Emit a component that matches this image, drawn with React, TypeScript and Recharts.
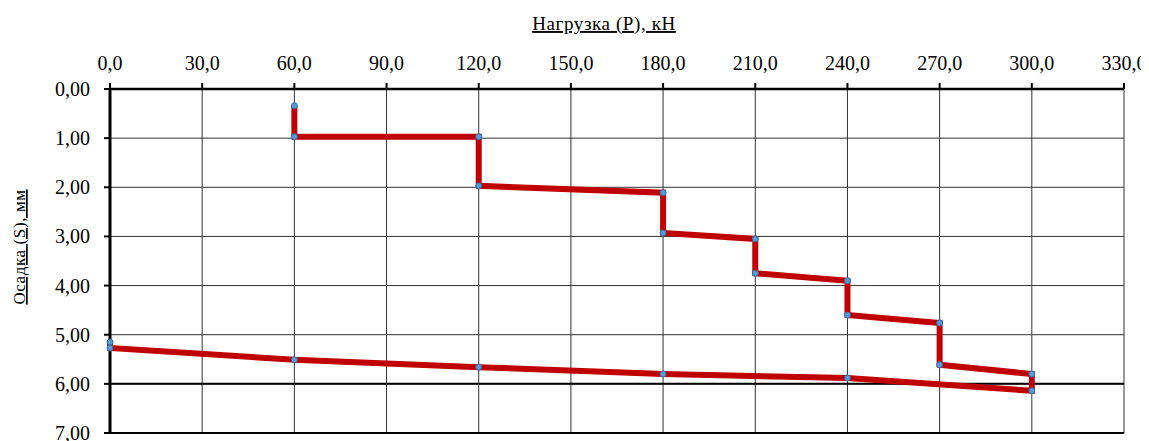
import React from 'react';
import { LineChart, Line, XAxis, YAxis, CartesianGrid, ReferenceLine, Label } from 'recharts';

// load (kN) and settlement (mm), in test order: loading steps then unloading
const loads = [60, 60, 120, 120, 180, 180, 210, 210, 240, 240, 270, 270, 300, 300, 240, 180, 120, 60, 0, 0];
const settlements = [0.34, 0.97, 0.97, 1.97, 2.11, 2.93, 3.05, 3.75, 3.9, 4.6, 4.76, 5.61, 5.8, 6.14, 5.88, 5.8, 5.66, 5.51, 5.27, 5.15];

const xTicks = [0, 30, 60, 90, 120, 150, 180, 210, 240, 270, 300, 330];
const yTicks = [0, 1, 2, 3, 4, 5, 6, 7];

const xTitle = 'Нагрузка (Р), кН';
const yTitle = 'Осадка (S), мм';

const data = loads.map((p, i) => ({ p, s: settlements[i] }));

const font = 'Liberation Serif, serif';

const fmtX = (v: number) => v.toFixed(1).replace('.', ',');
const fmtY = (v: number) => v.toFixed(2).replace('.', ',');

const XTick = (props: any) => (
  <text x={props.x} y={props.y} textAnchor="middle" fill="#000" style={{ fontFamily: font, fontSize: 20 }}>
    {fmtX(props.payload.value)}
  </text>
);

const YTick = (props: any) => (
  <text x={props.x} y={props.y} dy={7} textAnchor="end" fill="#000" style={{ fontFamily: font, fontSize: 20 }}>
    {fmtY(props.payload.value)}
  </text>
);

const XTitle = () => (
  <text x={596} y={22} textAnchor="middle" fill="#000" style={{ fontFamily: font, fontSize: 19, letterSpacing: 0.6, textDecoration: 'underline' }}>
    {xTitle}
  </text>
);

const YTitle = () => (
  <text x={0} y={0} transform="translate(17,239) rotate(-90)" textAnchor="middle" fill="#000" style={{ fontFamily: font, fontSize: 17, letterSpacing: 0.6, textDecoration: 'underline' }}>
    {yTitle}
  </text>
);

const App: React.FC = () => {
  return (
    <div style={{ width: 1141, height: 433, background: '#fff', fontFamily: font }}>
      <LineChart width={1141} height={433} data={data} margin={{ top: 51, right: 25, left: 42, bottom: 8 }}>
        <CartesianGrid stroke="#333" strokeWidth={1} horizontalValues={yTicks} verticalValues={xTicks} />
        <XAxis
          type="number"
          dataKey="p"
          orientation="top"
          domain={[0, 330]}
          ticks={xTicks}
          tick={<XTick />}
          height={30}
          tickSize={6}
          tickMargin={13}
          axisLine={{ stroke: '#000', strokeWidth: 2.5 }}
          tickLine={{ stroke: '#000', strokeWidth: 2 }}
          interval={0}
        >
          <Label content={<XTitle />} />
        </XAxis>
        <YAxis
          type="number"
          dataKey="s"
          reversed
          domain={[0, 7]}
          ticks={yTicks}
          tick={<YTick />}
          width={60}
          tickSize={6}
          tickMargin={14}
          axisLine={{ stroke: '#000', strokeWidth: 3 }}
          tickLine={{ stroke: '#000', strokeWidth: 2 }}
          interval={0}
        >
          <Label content={<YTitle />} />
        </YAxis>
        <ReferenceLine y={6} stroke="#000" strokeWidth={2} />
        <ReferenceLine y={7} stroke="#000" strokeWidth={2} />
        <Line
          type="linear"
          dataKey="s"
          stroke="#c00000"
          strokeWidth={6}
          strokeLinejoin="miter"
          dot={{ r: 3, fill: '#5b9bd5', stroke: '#2e6fa8', strokeWidth: 1 }}
          isAnimationActive={false}
        />
      </LineChart>
    </div>
  );
};

export default App;
